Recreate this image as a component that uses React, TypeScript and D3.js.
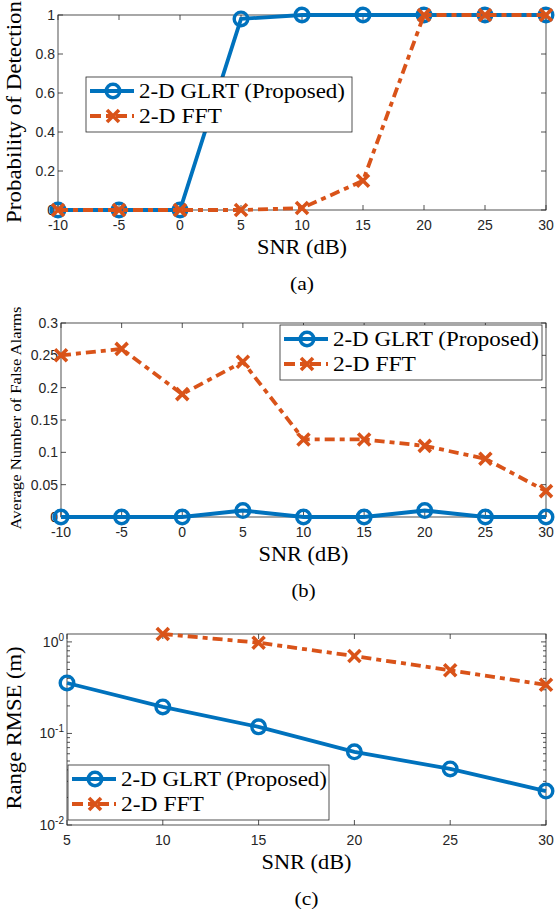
import React from 'react'
import * as d3 from 'd3'

// SNR grid for panels (a) and (b)
const snrAB = [-10, -5, 0, 5, 10, 15, 20, 25, 30]
const pdGlrt = [0, 0, 0, 0.98, 1, 1, 1, 1, 1]
const pdFft = [0, 0, 0, 0, 0.01, 0.15, 1, 1, 1]
const faGlrt = [0, 0, 0, 0.01, 0, 0, 0.01, 0, 0]
const faFft = [0.25, 0.26, 0.19, 0.24, 0.12, 0.12, 0.11, 0.09, 0.04]

// panel (c)
const snrC = [5, 10, 15, 20, 25, 30]
const rmseGlrt = [0.356, 0.195, 0.118, 0.063, 0.041, 0.0235]
const snrCFft = [10, 15, 20, 25, 30]
const rmseFft = [1.22, 0.98, 0.7, 0.49, 0.34]

const pdTicks = [0, 0.2, 0.4, 0.6, 0.8, 1]
const faTicks = [0, 0.05, 0.1, 0.15, 0.2, 0.25, 0.3]
const rmseTicks = [0.01, 0.1, 1]

const legendNames = ['2-D GLRT (Proposed)', '2-D FFT']

const BLUE = '#0072BD'
const ORANGE = '#D95319'
const AX = '#262626'
const SERIF = '"Liberation Serif", "Times New Roman", serif'
const SANS = '"Liberation Sans", Arial, sans-serif'
const DASH = '10 5 5 5'
const LW = 3.8
const TICK_FS = 14

type Pt = [number, number]

const Circle = ({ x, y }: { x: number; y: number }) => (
	<circle cx={x} cy={y} r={6.8} fill="none" stroke={BLUE} strokeWidth={3.4} />
)
const Cross = ({ x, y }: { x: number; y: number }) => (
	<path
		d={`M${x - 6},${y - 6}L${x + 6},${y + 6}M${x - 6},${y + 6}L${x + 6},${y - 6}`}
		stroke={ORANGE}
		strokeWidth={3.6}
	/>
)

// serif text stretched to the width measured on the reference (wider LaTeX font)
const SText = ({ w, size, ...rest }: { w: number; size: number } & React.SVGProps<SVGTextElement>) => (
	<text fontFamily={SERIF} fontSize={size} fill="#000" textLength={w} lengthAdjust="spacingAndGlyphs" {...rest} />
)

const Legend = ({ x, y, w }: { x: number; y: number; w: number }) => (
	<g>
		<rect x={x} y={y} width={w} height={55} fill="#fff" stroke={AX} strokeWidth={0.8} />
		<line x1={x + 4} x2={x + 48} y1={y + 14} y2={y + 14} stroke={BLUE} strokeWidth={LW} />
		<Circle x={x + 27} y={y + 14} />
		<line x1={x + 4} x2={x + 48} y1={y + 39} y2={y + 39} stroke={ORANGE} strokeWidth={LW} strokeDasharray="11 5 5 5" />
		<Cross x={x + 27} y={y + 39} />
		<SText x={x + 53} y={y + 21} size={20} w={206}>
			{legendNames[0]}
		</SText>
		<SText x={x + 53} y={y + 46} size={20} w={83}>
			{legendNames[1]}
		</SText>
	</g>
)

interface PanelProps {
	left: number
	right: number
	top: number
	bottom: number
	xDomain: [number, number]
	xTicks: number[]
	y: d3.ScaleContinuousNumeric<number, number>
	yTicks: number[]
	yLabel: (v: number) => React.ReactNode
	minorY?: number[]
	glrt: Pt[]
	fft: Pt[]
	legendX: number
	legendY: number
	legendW: number
	ylabel: string
	ylabelSize: number
	ylabelW: number
	ylabelY: number
	tag: string
}

const Panel = (p: PanelProps) => {
	const x = d3.scaleLinear().domain(p.xDomain).range([p.left, p.right])
	const line = d3
		.line<Pt>()
		.x((d) => x(d[0]))
		.y((d) => p.y(d[1]))
	const midX = (p.left + p.right) / 2
	return (
		<g>
			{/* ticks, inward on all sides */}
			{p.xTicks.map((t) => (
				<g key={'x' + t}>
					<line x1={x(t)} x2={x(t)} y1={p.bottom} y2={p.bottom - 5} stroke={AX} strokeWidth={0.8} />
					<line x1={x(t)} x2={x(t)} y1={p.top} y2={p.top + 5} stroke={AX} strokeWidth={0.8} />
					<text x={x(t)} y={p.bottom + 20} textAnchor="middle" fontFamily={SANS} fontSize={TICK_FS} fill={AX}>
						{t}
					</text>
				</g>
			))}
			{p.yTicks.map((t) => (
				<g key={'y' + t}>
					<line x1={p.left} x2={p.left + 5} y1={p.y(t)} y2={p.y(t)} stroke={AX} strokeWidth={0.8} />
					<line x1={p.right} x2={p.right - 5} y1={p.y(t)} y2={p.y(t)} stroke={AX} strokeWidth={0.8} />
					<text x={p.left - 3} y={p.y(t) + 5} textAnchor="end" fontFamily={SANS} fontSize={TICK_FS} fill={AX}>
						{p.yLabel(t)}
					</text>
				</g>
			))}
			{(p.minorY || []).map((t) => (
				<g key={'m' + t}>
					<line x1={p.left} x2={p.left + 3} y1={p.y(t)} y2={p.y(t)} stroke={AX} strokeWidth={0.8} />
					<line x1={p.right} x2={p.right - 3} y1={p.y(t)} y2={p.y(t)} stroke={AX} strokeWidth={0.8} />
				</g>
			))}
			<rect
				x={p.left}
				y={p.top}
				width={p.right - p.left}
				height={p.bottom - p.top}
				fill="none"
				stroke={AX}
				strokeWidth={0.8}
			/>
			{/* series */}
			<path d={line(p.glrt) || ''} fill="none" stroke={BLUE} strokeWidth={LW} />
			{p.glrt.map((d, i) => (
				<Circle key={'c' + i} x={x(d[0])} y={p.y(d[1])} />
			))}
			<path d={line(p.fft) || ''} fill="none" stroke={ORANGE} strokeWidth={LW} strokeDasharray={DASH} />
			{p.fft.map((d, i) => (
				<Cross key={'f' + i} x={x(d[0])} y={p.y(d[1])} />
			))}
			<Legend x={p.legendX} y={p.legendY} w={p.legendW} />
			{/* labels */}
			<SText x={midX} y={p.bottom + 44} textAnchor="middle" size={20} w={90}>
				SNR (dB)
			</SText>
			<SText x={midX} y={p.bottom + 80} textAnchor="middle" size={19} w={24}>
				{p.tag}
			</SText>
			<SText
				transform={`translate(21,${p.ylabelY}) rotate(-90)`}
				textAnchor="middle"
				size={p.ylabelSize}
				w={p.ylabelW}
			>
				{p.ylabel}
			</SText>
		</g>
	)
}

const zip = (xs: number[], ys: number[]): Pt[] => xs.map((v, i) => [v, ys[i]])

const App = () => {
	const yA = d3.scaleLinear().domain([0, 1]).range([210, 15])
	const yB = d3.scaleLinear().domain([0, 0.3]).range([517, 323])
	const yC = d3.scaleLog().domain([0.01, 1.22]).range([825, 634])
	const minorC = [0.02, 0.03, 0.04, 0.05, 0.06, 0.07, 0.08, 0.09, 0.2, 0.3, 0.4, 0.5, 0.6, 0.7, 0.8, 0.9]
	const logLabel = (v: number) => (
		<>
			10
			<tspan dy={-6} fontSize={10}>
				{Math.round(Math.log10(v))}
			</tspan>
		</>
	)
	return (
		<svg width={555} height={912} style={{ position: 'absolute', left: 0, top: 0, background: '#fff' }}>
			<Panel
				left={58}
				right={546}
				top={15}
				bottom={210}
				xDomain={[-10, 30]}
				xTicks={snrAB}
				y={yA}
				yTicks={pdTicks}
				yLabel={(v) => String(v)}
				glrt={zip(snrAB, pdGlrt)}
				fft={zip(snrAB, pdFft)}
				legendX={86}
				legendY={77}
				legendW={266}
				ylabel="Probability of Detection"
				ylabelSize={20}
				ylabelW={222}
				ylabelY={112}
				tag="(a)"
			/>
			<Panel
				left={61}
				right={546}
				top={323}
				bottom={517}
				xDomain={[-10, 30]}
				xTicks={snrAB}
				y={yB}
				yTicks={faTicks}
				yLabel={(v) => String(v)}
				glrt={zip(snrAB, faGlrt)}
				fft={zip(snrAB, faFft)}
				legendX={280}
				legendY={325}
				legendW={262}
				ylabel="Average Number of False Alarms"
				ylabelSize={14}
				ylabelW={223}
				ylabelY={418}
				tag="(b)"
			/>
			<Panel
				left={67}
				right={546}
				top={634}
				bottom={825}
				xDomain={[5, 30]}
				xTicks={snrC}
				y={yC}
				yTicks={rmseTicks}
				yLabel={logLabel}
				minorY={minorC}
				glrt={zip(snrC, rmseGlrt)}
				fft={zip(snrCFft, rmseFft)}
				legendX={68}
				legendY={765}
				legendW={261}
				ylabel="Range RMSE (m)"
				ylabelSize={20}
				ylabelW={163}
				ylabelY={728}
				tag="(c)"
			/>
		</svg>
	)
}

export default App
